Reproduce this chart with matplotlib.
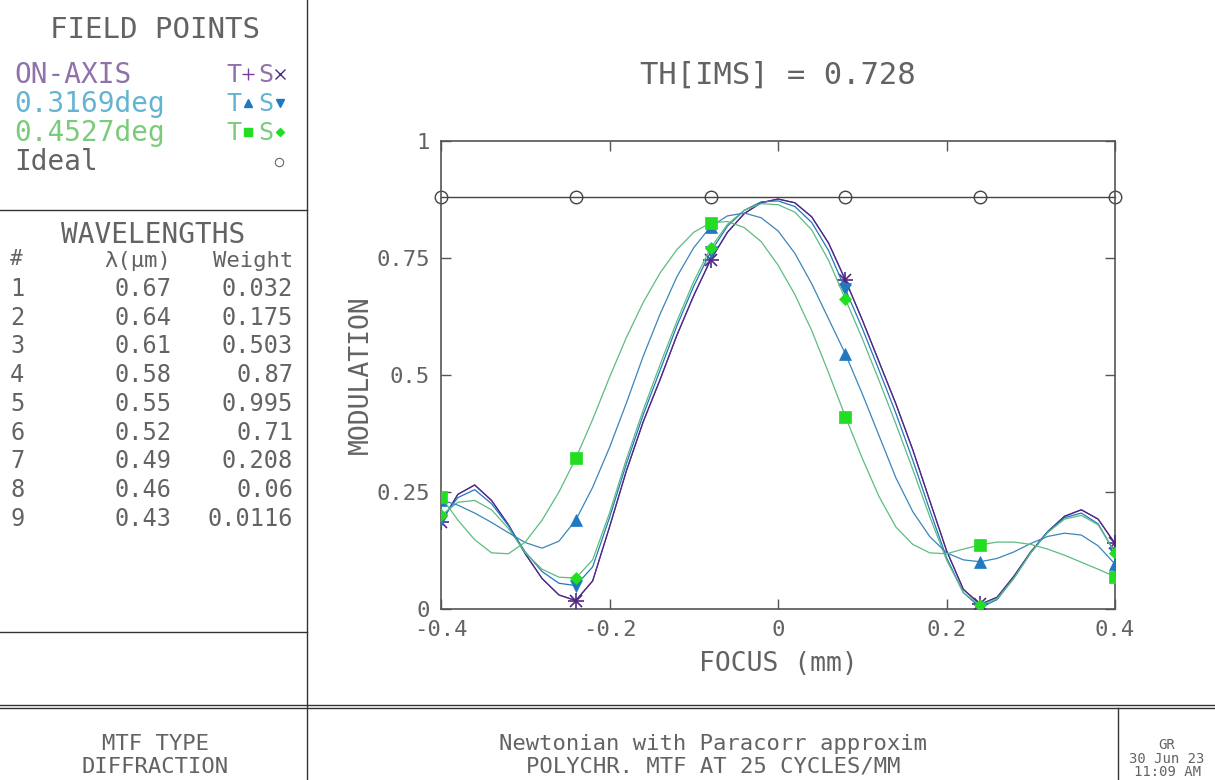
import numpy as np
import matplotlib
matplotlib.use("Agg")
import matplotlib.pyplot as plt
from matplotlib.lines import Line2D

# ---------------- data ----------------
focus = np.linspace(-0.4, 0.4, 41)  # sampling grid (mm)

onaxis_T = [0.185, 0.245, 0.265, 0.232, 0.180, 0.118, 0.065, 0.030, 0.018, 0.060,
            0.175, 0.295, 0.400, 0.490, 0.585, 0.670, 0.746, 0.805, 0.845, 0.868,
            0.876, 0.868, 0.838, 0.782, 0.703, 0.618, 0.528, 0.438, 0.340, 0.232,
            0.125, 0.042, 0.010, 0.025, 0.070, 0.122, 0.165, 0.198, 0.212, 0.192, 0.140]
onaxis_S = list(onaxis_T)

f1_T = [0.233, 0.222, 0.205, 0.185, 0.163, 0.142, 0.130, 0.145, 0.190, 0.260,
        0.345, 0.440, 0.540, 0.630, 0.710, 0.772, 0.817, 0.840, 0.846, 0.836,
        0.808, 0.760, 0.695, 0.620, 0.545, 0.460, 0.370, 0.280, 0.208, 0.155,
        0.120, 0.105, 0.101, 0.108, 0.122, 0.140, 0.155, 0.162, 0.158, 0.135, 0.096]
f1_S = [0.190, 0.238, 0.255, 0.225, 0.178, 0.122, 0.080, 0.055, 0.050, 0.090,
        0.195, 0.310, 0.415, 0.510, 0.605, 0.690, 0.763, 0.818, 0.852, 0.870,
        0.872, 0.860, 0.826, 0.766, 0.683, 0.600, 0.510, 0.418, 0.318, 0.212,
        0.110, 0.035, 0.003, 0.020, 0.066, 0.120, 0.165, 0.195, 0.205, 0.182, 0.120]

f2_T = [0.240, 0.190, 0.148, 0.120, 0.118, 0.143, 0.190, 0.250, 0.322, 0.405,
        0.495, 0.580, 0.655, 0.718, 0.768, 0.805, 0.825, 0.828, 0.815, 0.785,
        0.735, 0.672, 0.595, 0.505, 0.411, 0.322, 0.240, 0.175, 0.138, 0.120,
        0.118, 0.128, 0.137, 0.143, 0.143, 0.138, 0.128, 0.115, 0.100, 0.085, 0.069]
f2_S = [0.200, 0.228, 0.232, 0.212, 0.172, 0.120, 0.085, 0.068, 0.066, 0.105,
        0.205, 0.320, 0.425, 0.522, 0.615, 0.700, 0.771, 0.822, 0.852, 0.866,
        0.864, 0.848, 0.810, 0.745, 0.662, 0.578, 0.488, 0.395, 0.298, 0.198,
        0.105, 0.035, 0.008, 0.022, 0.066, 0.120, 0.163, 0.192, 0.200, 0.180, 0.120]

ideal_mtf = 0.881
ideal_focus = [-0.4, -0.24, -0.08, 0.08, 0.24, 0.4]

wl_index = ["1", "2", "3", "4", "5", "6", "7", "8", "9"]
wl_um = ["0.67", "0.64", "0.61", "0.58", "0.55", "0.52", "0.49", "0.46", "0.43"]
wl_weight = ["0.032", "0.175", "0.503", "0.87", "0.995", "0.71", "0.208", "0.06", "0.0116"]

x_ticks = [-0.4, -0.2, 0, 0.2, 0.4]
x_ticklabels = ["-0.4", "-0.2", "0", "0.2", "0.4"]
y_ticks = [0, 0.25, 0.5, 0.75, 1]
y_ticklabels = ["0", "0.25", "0.5", "0.75", "1"]

# ---------------- style ----------------
MONO = "DejaVu Sans Mono"
TXT = "#636363"
PURPLE_TXT = "#8f72aa"
BLUE_TXT = "#62b4d2"
GREEN_TXT = "#7acb7a"
PURPLE = "#4b2a86"
PURPLE2 = "#7a3f9a"
BLUE_L = "#3a86b8"
BLUE_M = "#1f78c0"
GREEN_L = "#5cbc80"
GREEN_M = "#22dd22"

W, H = 1215, 780
fig = plt.figure(figsize=(W / 100, H / 100), dpi=100)
fig.patch.set_facecolor("white")

def fx(px):
    return px / W

def fy(py):
    return 1 - py / H

ax = fig.add_axes([fx(441), fy(609), fx(1115) - fx(441), fy(141) - fy(609)])

series = [
    (onaxis_T, PURPLE2, "+", PURPLE, 11, 1.2),
    (onaxis_S, PURPLE, "x", PURPLE, 9, 1.2),
    (f1_S, BLUE_M, "v", BLUE_M, 8, 0),
    (f2_S, GREEN_L, "D", GREEN_M, 6, 0),
    (f1_T, BLUE_L, "^", BLUE_M, 8, 0),
    (f2_T, GREEN_L, "s", GREEN_M, 8, 0),
]
for vals, lc, mk, mc, ms, mew in series:
    ax.plot(focus, vals, color=lc, lw=0.9, marker=mk, markevery=8,
            markersize=ms, markerfacecolor=mc, markeredgecolor=mc,
            markeredgewidth=mew if mew else 0.5, zorder=3)

ax.plot(ideal_focus, [ideal_mtf] * len(ideal_focus), color="#444444", lw=1.0,
        marker="o", markersize=9, markerfacecolor="none",
        markeredgecolor="#444444", markeredgewidth=1.0, zorder=2,
        clip_on=False)

ax.set_xlim(-0.4, 0.4)
ax.set_ylim(0, 1)
ax.set_xticks(x_ticks)
ax.set_xticklabels(x_ticklabels)
ax.set_yticks(y_ticks)
ax.set_yticklabels(y_ticklabels)
ax.tick_params(direction="in", length=7, width=1, color="#555555",
               top=True, right=True, labelsize=16, labelcolor=TXT, pad=8)
for lab in ax.get_xticklabels() + ax.get_yticklabels():
    lab.set_family(MONO)
for sp in ax.spines.values():
    sp.set_color("#555555")
    sp.set_linewidth(1.2)

ax.set_xlabel("FOCUS (mm)", family=MONO, fontsize=19, color=TXT, labelpad=8)
ax.set_ylabel("MODULATION", family=MONO, fontsize=19, color=TXT, labelpad=2)
fig.text(fx(778), fy(75), "TH[IMS] = 0.728", family=MONO, fontsize=22,
         color=TXT, ha="center", va="center")

# ---------------- frame lines ----------------
def hline(y, x0, x1, lw=1.0, c="#333333"):
    fig.add_artist(Line2D([fx(x0), fx(x1)], [fy(y), fy(y)], lw=lw, color=c,
                          transform=fig.transFigure))

def vline(x, y0, y1, lw=1.0, c="#333333"):
    fig.add_artist(Line2D([fx(x), fx(x)], [fy(y0), fy(y1)], lw=lw, color=c,
                          transform=fig.transFigure))

vline(307, 0, 780)
hline(210, 0, 307)
hline(632, 0, 307)
hline(705, 0, W, lw=1.0)
hline(708, 0, W, lw=1.0)
vline(1118, 708, 780)

# ---------------- left panel: field points ----------------
fig.text(fx(155), fy(30), "FIELD POINTS", family=MONO, fontsize=21,
         color=TXT, ha="center", va="center")
rows = [("ON-AXIS", PURPLE_TXT, 75), ("0.3169deg", BLUE_TXT, 104),
        ("0.4527deg", GREEN_TXT, 133), ("Ideal", TXT, 162)]
for label, col, y in rows:
    fig.text(fx(14), fy(y), label, family=MONO, fontsize=20, color=col,
             ha="left", va="center")

# T / S marker keys
key_rows = [(75, PURPLE_TXT, "+", PURPLE2, "x", PURPLE, 8, 7),
            (104, BLUE_TXT, "^", BLUE_M, "v", BLUE_M, 6, 6),
            (133, GREEN_TXT, "s", GREEN_M, "D", GREEN_M, 5.5, 4.5)]
for y, tc, mT, cT, mS, cS, msT, msS in key_rows:
    fig.text(fx(226), fy(y), "T", family=MONO, fontsize=18, color=tc,
             ha="left", va="center")
    fig.add_artist(Line2D([fx(248)], [fy(y - 1)], marker=mT, markersize=msT,
                          color=cT, markerfacecolor=cT, markeredgecolor=cT,
                          mew=1.0, transform=fig.transFigure))
    fig.text(fx(258), fy(y), "S", family=MONO, fontsize=18, color=tc,
             ha="left", va="center")
    fig.add_artist(Line2D([fx(280)], [fy(y - 1)], marker=mS, markersize=msS,
                          color=cS, markerfacecolor=cS, markeredgecolor=cS,
                          mew=1.0, transform=fig.transFigure))
fig.add_artist(Line2D([fx(279)], [fy(162)], marker="o", markersize=6,
                      markerfacecolor="none", markeredgecolor="#666666",
                      mew=0.8, transform=fig.transFigure))

# ---------------- left panel: wavelengths ----------------
fig.text(fx(153), fy(235), "WAVELENGTHS", family=MONO, fontsize=20,
         color=TXT, ha="center", va="center")
fig.text(fx(10), fy(259), "#", family=MONO, fontsize=15, color=TXT,
         ha="left", va="center")
fig.text(fx(171), fy(261), "λ(μm)", family=MONO, fontsize=16, color=TXT,
         ha="right", va="center")
fig.text(fx(293), fy(261), "Weight", family=MONO, fontsize=16, color=TXT,
         ha="right", va="center")
for i, (n, wl, wt) in enumerate(zip(wl_index, wl_um, wl_weight)):
    y = 289 + i * 28.7
    fig.text(fx(10), fy(y), n, family=MONO, fontsize=17, color=TXT,
             ha="left", va="center")
    fig.text(fx(171), fy(y), wl, family=MONO, fontsize=17, color=TXT,
             ha="right", va="center")
    fig.text(fx(293), fy(y), wt, family=MONO, fontsize=17, color=TXT,
             ha="right", va="center")

# ---------------- bottom band ----------------
fig.text(fx(155), fy(744), "MTF TYPE", family=MONO, fontsize=16, color=TXT,
         ha="center", va="center")
fig.text(fx(155), fy(767), "DIFFRACTION", family=MONO, fontsize=16, color=TXT,
         ha="center", va="center")
fig.text(fx(713), fy(744), "Newtonian with Paracorr approxim", family=MONO,
         fontsize=16, color=TXT, ha="center", va="center")
fig.text(fx(713), fy(767), "POLYCHR. MTF AT 25 CYCLES/MM", family=MONO,
         fontsize=16, color=TXT, ha="center", va="center")
fig.text(fx(1167), fy(745), "GR", family=MONO, fontsize=10, color=TXT,
         ha="center", va="center")
fig.text(fx(1167), fy(759), "30 Jun 23", family=MONO, fontsize=10, color=TXT,
         ha="center", va="center")
fig.text(fx(1167), fy(772), "11:09 AM", family=MONO, fontsize=10, color=TXT,
         ha="center", va="center")

fig.savefig("out.png", dpi=100, facecolor="white")
